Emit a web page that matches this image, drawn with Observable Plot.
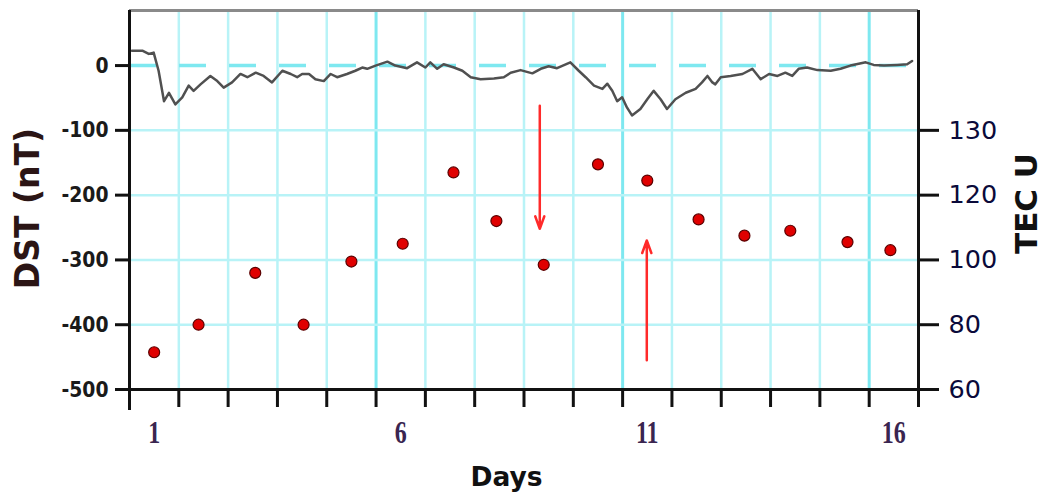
<!DOCTYPE html>
<html><head><meta charset="utf-8">
<script src="https://cdn.jsdelivr.net/npm/d3@7"></script>
<script src="https://cdn.jsdelivr.net/npm/@observablehq/plot@0.6"></script>
<style>body{margin:0;background:#fff;} #chart svg{display:block;}</style>
</head><body><div id="chart"></div>
<script>
// DST index (nT)
const dstDays = [0.55,0.76,0.89,0.99,1.09,1.20,1.30,1.43,1.57,1.70,1.80,1.94,2.14,2.28,2.41,2.58,2.75,2.89,3.06,3.22,3.39,3.60,3.77,3.90,4.00,4.14,4.27,4.44,4.58,4.71,4.91,5.08,5.22,5.32,5.49,5.73,5.89,6.13,6.33,6.50,6.60,6.74,6.87,7.08,7.25,7.42,7.62,7.89,8.09,8.23,8.43,8.67,8.84,9.00,9.17,9.44,9.61,9.75,9.92,10.09,10.19,10.29,10.39,10.49,10.59,10.69,10.86,11.00,11.13,11.27,11.40,11.57,11.78,11.98,12.11,12.22,12.32,12.38,12.49,12.69,12.93,13.13,13.30,13.47,13.64,13.80,13.94,14.07,14.24,14.45,14.72,14.92,15.12,15.43,15.59,15.80,16.07,16.27,16.37];
const dstValues = [23,23,18,20,-8,-55,-42,-60,-49,-31,-39,-29,-16,-24,-34,-26,-13,-18,-11,-16,-26,-8,-13,-18,-13,-13,-21,-24,-13,-18,-13,-8,-3,-5,0,6,0,-4,5,-3,5,-5,2,-3,-8,-18,-21,-20,-18,-11,-7,-12,-5,-1,-4,5,-8,-18,-31,-36,-28,-39,-55,-49,-65,-77,-67,-52,-39,-52,-67,-52,-42,-36,-26,-16,-26,-29,-18,-16,-13,-5,-21,-13,-16,-11,-16,-5,-3,-7,-8,-5,0,5,1,0,1,2,7];

// TEC values (TECU), red dots
const tecDays = [1,1.9,3.05,4.03,5,6.04,7.07,7.94,8.9,10,11,12.04,12.97,13.9,15.06,15.93];
const tecValues = [71.5,80,96,80,99.5,105,127,112,98.5,129.5,124.5,112.5,107.5,109,105.5,103];

// axes
const leftTicks = [0,-100,-200,-300,-400,-500];
const leftTickLabels = ["0","-100","-200","-300","-400","-500"];
const rightTickTec = [60,80,100,120,140];
const rightTickLabels = ["60","80","100","120","130"];
const dayBoundaries = [0.5,1.5,2.5,3.5,4.5,5.5,6.5,7.5,8.5,9.5,10.5,11.5,12.5,13.5,14.5,15.5,16.5];
const dayLabels = [1,6,11,16];
const dayLabelText = ["1","6","11","16"];
const minorGrid = [1.5,2.5,3.5,4.5,6.5,7.5,8.5,9.5,11.5,12.5,13.5,14.5];
const majorGrid = [5.5,10.5,15.5];
const hGrid = [-100,-200,-300,-400];

// red arrows
const arrowDays = [8.82, 10.99];
const arrowFrom = [-62, -455];
const arrowTo = [-252, -270];

const toDst = t => (t - 160) * 5;
const lineData = dstDays.map((d,i)=>({day:d, dst:dstValues[i]}));
const tecData = tecDays.map((d,i)=>({day:d, tec:tecValues[i]}));
const arrowData = arrowDays.map((d,i)=>({day:d, from:arrowFrom[i], to:arrowTo[i]}));
const rightTickPos = rightTickTec.map(toDst);

const chart = Plot.plot({
  width:1044, height:500,
  marginLeft:129, marginRight:126, marginTop:10, marginBottom:111,
  x:{domain:[0.5,16.5], label:null},
  y:{domain:[-500,85], label:null},
  style:{background:"#fff", overflow:"visible"},
  marks:[
    Plot.ruleX(minorGrid,{stroke:"#b8f3f7", strokeWidth:2.5}),
    Plot.ruleX(majorGrid,{stroke:"#7ee8f0", strokeWidth:3}),
    Plot.ruleY(hGrid,{stroke:"#b8f3f7", strokeWidth:2.5}),
    Plot.ruleY([0],{stroke:"#7ee8f0", strokeWidth:3.5, strokeDasharray:"27,23"}),
    Plot.ruleY([85],{stroke:"#8a8a8a", strokeWidth:3}),
    Plot.line(lineData,{x:"day", y:"dst", stroke:"#505050", strokeWidth:2.5}),
    Plot.arrow(arrowData,{x1:"day", x2:"day", y1:"from", y2:"to", stroke:"#ff2a2a", strokeWidth:2.5, headLength:8, headAngle:40}),
    Plot.dot(tecData,{x:"day", y:d=>toDst(d.tec), r:5.5, fill:"#e00000", stroke:"#5a0000", strokeWidth:1.2}),
    Plot.ruleY([-500],{stroke:"#111", strokeWidth:3}),
    Plot.ruleX([0.5],{stroke:"#111", strokeWidth:3, insetBottom:-21}),
    Plot.ruleX([16.5],{stroke:"#111", strokeWidth:3, insetBottom:-18}),
    Plot.axisX({ticks:dayBoundaries, tickSize:18, tickFormat:()=>"", label:null, strokeWidth:3, stroke:"#111"}),
    Plot.axisX({ticks:dayLabels, tickSize:0, tickPadding:43, lineAnchor:"middle", label:null,
      tickFormat:d=>dayLabelText[dayLabels.indexOf(d)],
      fontFamily:"Liberation Serif", fontWeight:"bold", fontSize:24, fill:"#3a2550"}),
    Plot.axisY({anchor:"left", ticks:leftTicks, tickSize:14, tickPadding:7, label:null,
      tickFormat:d=>leftTickLabels[leftTicks.indexOf(d)],
      strokeWidth:3, stroke:"#111", fill:"#1a1a1a",
      fontFamily:"DejaVu Sans", fontWeight:"bold", fontSize:18.8}),
    Plot.axisY({anchor:"right", ticks:rightTickPos, tickSize:20, tickPadding:10, label:null,
      tickFormat:d=>rightTickLabels[rightTickPos.indexOf(d)],
      strokeWidth:3, stroke:"#111", fill:"#0a0a3a",
      fontFamily:"DejaVu Sans", fontSize:25.5}),
    Plot.text(["DST (nT)"],{frameAnchor:"left", dx:-101, dy:8.5, rotate:-90, text:d=>d,
      ariaLabel:"title-dst", fontFamily:"DejaVu Sans", fontWeight:"bold", fontSize:33, fill:"#2b1515",
      textAnchor:"middle", lineAnchor:"middle"}),
    Plot.text(["TEC U"],{frameAnchor:"right", dx:109, dy:3.5, rotate:-90, text:d=>d,
      ariaLabel:"title-tec", fontFamily:"DejaVu Sans", fontWeight:"bold", fontSize:31, fill:"#111",
      textAnchor:"middle", lineAnchor:"middle"}),
    Plot.text(["Days"],{frameAnchor:"bottom", dx:-17.5, dy:88, text:d=>d,
      ariaLabel:"title-days", fontFamily:"DejaVu Sans", fontWeight:"bold", fontSize:26.5, fill:"#111",
      textAnchor:"middle", lineAnchor:"middle"})
  ]
});
document.getElementById("chart").appendChild(chart);

// glyph heights in the reference are taller than the font's natural proportion
function stretch(nodes, k){
  for (const el of nodes){
    const t = el.getAttribute("transform") || "";
    el.setAttribute("transform", (t + ` scale(1,${k})`).trim());
  }
}
const root = d3.select(chart);
stretch(root.selectAll('g[aria-label="x-axis tick label"] text').nodes(), 1.33);
const yl = root.selectAll('g[aria-label="y-axis tick label"]').nodes();
if (yl[0]) stretch(d3.select(yl[0]).selectAll("text").nodes(), 1.17);
stretch(root.selectAll('g[aria-label="title-dst"] text').nodes(), 1.23);
stretch(root.selectAll('g[aria-label="title-days"] text').nodes(), 1.45);
</script>
</body></html>
